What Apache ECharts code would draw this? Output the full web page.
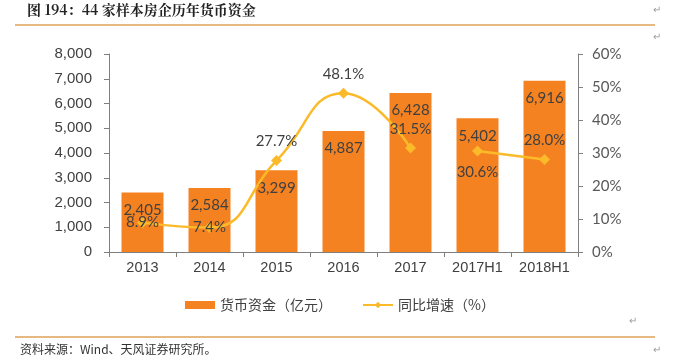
<!DOCTYPE html>
<html><head><meta charset="utf-8">
<script src="https://cdn.jsdelivr.net/npm/echarts@6/dist/echarts.min.js"></script>
<style>html,body{margin:0;padding:0;background:#fff}#c{width:698px;height:360px}</style>
</head><body><div id="c"></div>
<script>
const categories = ['2013','2014','2015','2016','2017','2017H1','2018H1'];
const cashValues = [2405, 2584, 3299, 4887, 6428, 5402, 6916];
const growthA = [8.9, 7.4, 27.7, 48.1, 31.5, null, null];
const growthB = [null, null, null, null, null, 30.6, 28.0];
const growthLabelPos = ['inside','inside','top','top','top','bottom','top'];
const leftTicks = [0,1000,2000,3000,4000,5000,6000,7000,8000];
const rightTicks = [0,10,20,30,40,50,60];

const chart = echarts.init(document.getElementById('c'));
const fontCJK = '"Noto Sans CJK SC","Noto Sans",sans-serif';
const labelColor = '#404040';
function growthData(arr){
  return arr.map((v,i)=> v==null ? null : {value:v, label:{position:growthLabelPos[i], distance: growthLabelPos[i]==='bottom'?8:6}});
}
const lineCommon = {
  type:'line', yAxisIndex:1, smooth:true, symbol:'diamond', symbolSize:11,
  lineStyle:{color:'#FBBA2A', width:2.5}, itemStyle:{color:'#FBBA2A'},
  label:{show:true, color:labelColor, fontSize:15, fontFamily:'Lato', formatter:p=>p.value.toFixed(1)+'%'},
  z:5
};
chart.setOption({
  animation:false,
  textStyle:{fontFamily:'Liberation Sans, Arial'},
  grid:{left:109, right:120, top:54, bottom:108},
  legend:{
    data:[{name:'货币资金（亿元）', icon:'rect'}, {name:'同比增速（%）'}],
    left:180, top:293, itemGap:30, itemWidth:30, itemHeight:8,
    textStyle:{fontFamily:fontCJK, fontSize:14, color:'#404040'}
  },
  xAxis:{
    type:'category', data:categories,
    axisLine:{lineStyle:{color:'#7f7f7f'}},
    axisTick:{show:true, inside:false, length:5, lineStyle:{color:'#7f7f7f'}},
    axisLabel:{color:'#404040', fontSize:14.5, margin:8, interval:0}
  },
  yAxis:[{
    type:'value', min:0, max:8000, interval:1000,
    axisLine:{show:true, lineStyle:{color:'#7f7f7f'}},
    axisTick:{show:true, length:5, lineStyle:{color:'#7f7f7f'}},
    splitLine:{show:false},
    axisLabel:{color:'#404040', fontSize:15, margin:17, formatter:v=>v.toLocaleString('en-US')}
  },{
    type:'value', min:0, max:60, interval:10,
    axisLine:{show:true, lineStyle:{color:'#7f7f7f'}},
    axisTick:{show:true, length:5, lineStyle:{color:'#7f7f7f'}},
    splitLine:{show:false},
    axisLabel:{color:'#595959', fontSize:15, margin:14, fontFamily:'Lato', formatter:'{value}%'}
  }],
  series:[{
    name:'货币资金（亿元）', type:'bar', data:cashValues, barWidth:42,
    itemStyle:{color:'#F58220'},
    label:{show:true, position:'insideTop', distance:10, color:labelColor, fontSize:15, fontFamily:'Lato',
      formatter:p=>p.value.toLocaleString('en-US')}
  },
  Object.assign({}, lineCommon, {name:'同比增速（%）', data:growthData(growthA)}),
  Object.assign({}, lineCommon, {name:'同比增速B', data:growthData(growthB)})
  ],
  graphic:[
    {type:'text', left:27, top:3, style:{text:'图 194：44 家样本房企历年货币资金', font:'bold 14px "Noto Serif CJK SC","Noto Sans CJK SC",serif', fill:'#222'}},
    {type:'line', shape:{x1:15, y1:25, x2:655, y2:25}, style:{stroke:'#E0A05A', lineWidth:1.5}},
    {type:'line', shape:{x1:15, y1:337, x2:655, y2:337}, style:{stroke:'#E0A05A', lineWidth:1.5}},
    {type:'text', left:20, top:343, style:{text:'资料来源：Wind、天风证券研究所。', font:'12px "Noto Sans CJK SC",sans-serif', fill:'#333'}},
    {type:'text', left:653, top:5, style:{text:'↵', font:'10px sans-serif', fill:'#999'}},
    {type:'text', left:653, top:32, style:{text:'↵', font:'10px sans-serif', fill:'#999'}},
    {type:'text', left:629, top:316, style:{text:'↵', font:'10px sans-serif', fill:'#999'}},
    {type:'text', left:653, top:345, style:{text:'↵', font:'10px sans-serif', fill:'#999'}}
  ]
});
</script></body></html>
